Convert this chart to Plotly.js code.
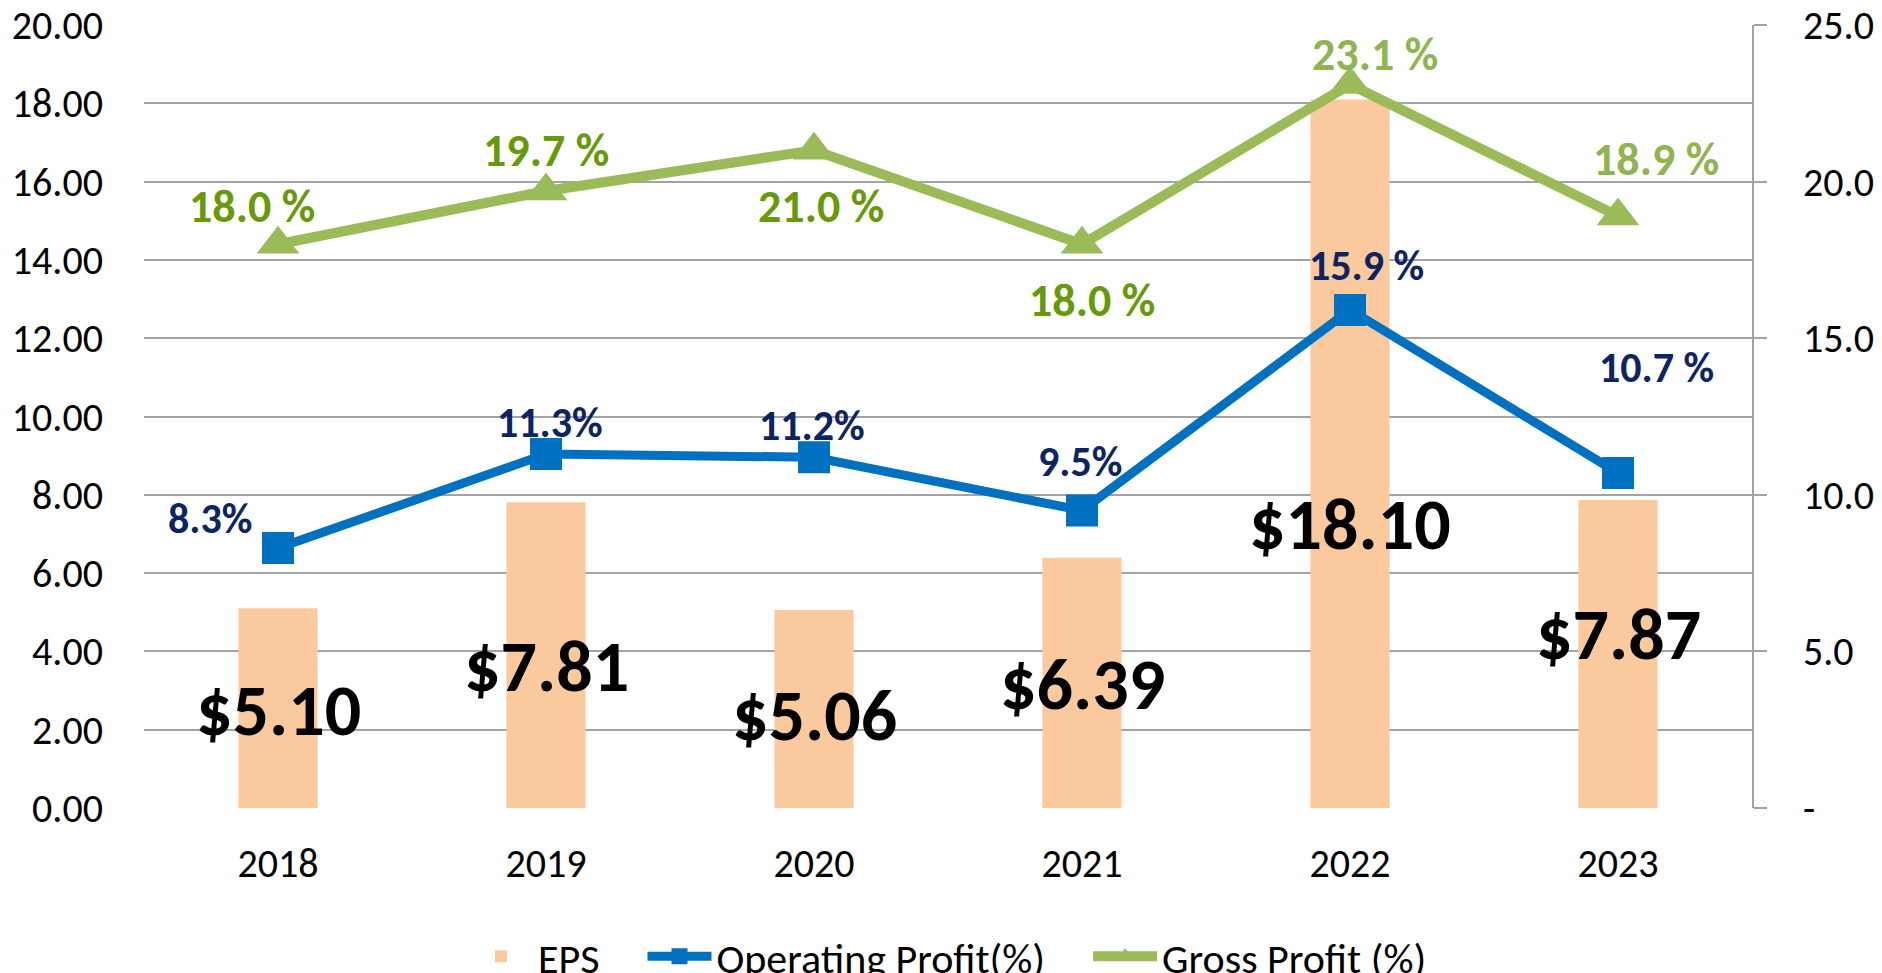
<!DOCTYPE html>
<html>
<head>
<meta charset="utf-8">
<script src="https://cdn.plot.ly/plotly-3.0.1.min.js"></script>
<style>html,body{margin:0;padding:0;background:#fff;}#chart{width:1882px;height:973px;}</style>
</head>
<body>
<div id="chart"></div>
<script>
// ---- data ----
const years = ['2018', '2019', '2020', '2021', '2022', '2023'];
const eps = [5.10, 7.81, 5.06, 6.39, 18.10, 7.87];
const operatingProfit = [8.3, 11.3, 11.2, 9.5, 15.9, 10.7];
const grossProfit = [18.0, 19.7, 21.0, 18.0, 23.1, 18.9];
const seriesNames = ['EPS', 'Operating Profit(%)', 'Gross Profit (%)'];
const operatingLabels = ['8.3%', '11.3%', '11.2%', '9.5%', '15.9 %', '10.7 %'];
const grossLabels = ['18.0 %', '19.7 %', '21.0 %', '18.0 %', '23.1 %', '18.9 %'];
const leftTicks = [0, 2, 4, 6, 8, 10, 12, 14, 16, 18, 20];
const rightTickVals = [0, 5, 10, 15, 20, 25];
const rightTickText = ['-', '5.0', '10.0', '15.0', '20.0', '25.0'];

// ---- label placement (pixel offsets from the data point) ----
const epsShift = [[0, -102], [0, -164], [0, -105], [0, -126], [0, -425], [0, -134]];
const opShift = [[-68, 30], [4, 32], [-2, 32], [-2, 49], [16, 45], [38, 105]];
const grossShift = [[-26, 38], [0, 41], [7, -56], [10, -56], [25, 31], [38, 57]];
const grossColors = ['#679A0A', '#679A0A', '#679A0A', '#679A0A', '#8FB451', '#8FB451'];

const FONT = 'Carlito, Calibri, Lato, sans-serif';
const LEGEND_PAD = '\u00a0\u00a0\u00a0\u00a0';

const traces = [
  {
    type: 'bar', name: seriesNames[0] + LEGEND_PAD, x: years, y: eps, yaxis: 'y',
    marker: {color: '#FAC99D'}, hoverinfo: 'skip'
  },
  {
    type: 'scatter', mode: 'lines+markers', name: seriesNames[1] + LEGEND_PAD,
    x: years, y: operatingProfit, yaxis: 'y2',
    line: {color: '#0070C0', width: 9},
    marker: {symbol: 'square', size: 32, color: '#0070C0'}, hoverinfo: 'skip'
  },
  {
    type: 'scatter', mode: 'lines+markers', name: seriesNames[2],
    x: years, y: grossProfit, yaxis: 'y2',
    line: {color: '#9BBB59', width: 10},
    marker: {symbol: 'triangle-up', size: 37, color: '#9BBB59'}, hoverinfo: 'skip'
  }
];

// annotations use the category index on the category x axis
const annotations = [];
years.forEach((yr, i) => {
  annotations.push({
    x: i, y: eps[i], xref: 'x', yref: 'y', showarrow: false,
    text: '$' + eps[i].toFixed(2), xshift: epsShift[i][0], yshift: epsShift[i][1],
    xanchor: 'center', yanchor: 'middle',
    font: {family: FONT, size: 72, color: '#000000', weight: 'bold'}
  });
  annotations.push({
    x: i, y: operatingProfit[i], xref: 'x', yref: 'y2', showarrow: false,
    text: operatingLabels[i], xshift: opShift[i][0], yshift: opShift[i][1],
    xanchor: 'center', yanchor: 'middle',
    font: {family: FONT, size: 42, color: '#0C2462', weight: 'bold'}
  });
  annotations.push({
    x: i, y: grossProfit[i], xref: 'x', yref: 'y2', showarrow: false,
    text: grossLabels[i], xshift: grossShift[i][0], yshift: grossShift[i][1],
    xanchor: 'center', yanchor: 'middle',
    font: {family: FONT, size: 46, color: grossColors[i], weight: 'bold'}
  });
});

const layout = {
  width: 1882, height: 973,
  margin: {l: 144, r: 130, t: 25, b: 165, pad: 0},
  paper_bgcolor: '#ffffff', plot_bgcolor: '#ffffff',
  font: {family: FONT, size: 40, color: '#000000'},
  showlegend: true,
  bargap: 0.705,
  hovermode: false,
  xaxis: {
    type: 'category', categoryorder: 'array', categoryarray: years,
    range: [-0.5, years.length - 0.5], autorange: false,
    showgrid: false, zeroline: false, showline: false, ticks: '',
    ticklabelstandoff: 28,
    tickfont: {family: FONT, size: 40, color: '#000000'}
  },
  yaxis: {
    range: [0, 20], autorange: false, tickvals: leftTicks,
    ticktext: leftTicks.map(v => v.toFixed(2)),
    showgrid: true, gridcolor: '#A3A3A3', gridwidth: 2,
    zeroline: false, showline: false, ticks: '',
    ticklabelstandoff: 40,
    tickfont: {family: FONT, size: 40, color: '#000000'}
  },
  yaxis2: {
    range: [0, 25], autorange: false, overlaying: 'y', side: 'right',
    tickvals: rightTickVals, ticktext: rightTickText,
    showgrid: false, zeroline: false,
    showline: true, linecolor: '#A3A3A3', linewidth: 2,
    ticks: 'outside', ticklen: 13, tickwidth: 2, tickcolor: '#A3A3A3',
    ticklabelstandoff: 28,
    tickfont: {family: FONT, size: 40, color: '#000000'}
  },
  legend: {
    orientation: 'h', xref: 'paper', x: 0.5, xanchor: 'center',
    yref: 'container', y: 0.017, yanchor: 'middle',
    font: {family: FONT, size: 42, color: '#000000'},
    itemwidth: 64, tracegroupgap: 0
  },
  annotations: annotations
};

Plotly.newPlot('chart', traces, layout, {displayModeBar: false, staticPlot: true});
</script>
</body>
</html>
